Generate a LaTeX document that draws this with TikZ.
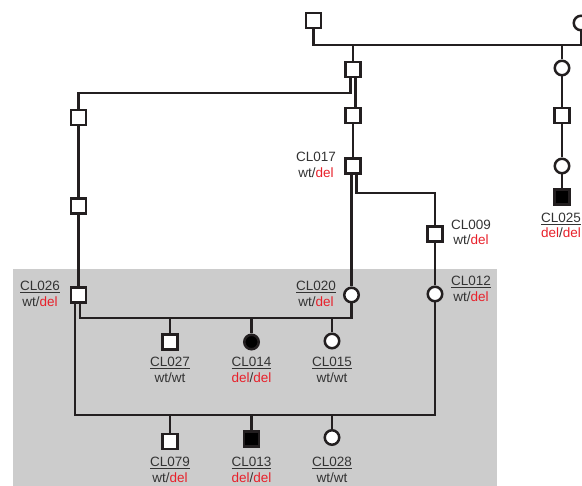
\documentclass[tikz,border=0pt]{standalone}
\usepackage{fontspec}
\setmainfont{Liberation Sans}
\usetikzlibrary{calc}
\definecolor{txt}{HTML}{333333}
\definecolor{delred}{HTML}{E8202A}
\definecolor{ln}{HTML}{231F20}
\definecolor{bg}{HTML}{CCCCCC}
\newcommand{\dl}{\textcolor{delred}{del}}
\begin{document}
\begin{tikzpicture}[x=1pt,y=-1pt,
  conn/.style={draw=ln, line width=2.5pt},
  male/.style={draw=ln, line width=2.5pt, fill=white, rectangle, minimum size=14.8pt, inner sep=0pt},
  female/.style={draw=ln, line width=2.5pt, fill=white, circle, minimum size=14.5pt, inner sep=0pt},
  aff/.style={fill=black},
  lbl/.style={anchor=base, inner sep=0pt, text=txt, font=\fontsize{13.5}{16}\selectfont}]
\useasboundingbox (0,0) rectangle (582,486);
\fill[bg] (13,269) rectangle (497,486);

% individuals
\node[male] (t1) at (313.5,20.5) {};
\node[female] (t2) at (581,23) {};
\node[male] (a1) at (353,69.5) {};
\node[male] (a2) at (353,115.5) {};
\node[male] (c17) at (353,166) {};
\node[female] (b1) at (562,68) {};
\node[male] (b2) at (562,115.5) {};
\node[female] (b3) at (562,166) {};
\node[male,aff] (b4) at (562,197) {};
\node[male] (L1) at (78.5,117.5) {};
\node[male] (L2) at (78.5,206) {};
\node[male] (c26) at (78.5,295) {};
\node[female] (c20) at (351.5,295) {};
\node[male] (c09) at (435,234) {};
\node[female] (c12) at (435,294) {};
\node[male] (c27) at (170,342) {};
\node[female,aff] (c14) at (251.5,342) {};
\node[female] (c15) at (332,341) {};
\node[male] (c79) at (170,441.5) {};
\node[male,aff] (c13) at (251.5,439) {};
\node[female] (c28) at (332,437.5) {};

% helper coordinates
\coordinate (mA) at (313.5,45);
\coordinate (mB) at (581,45);
\coordinate (kL) at (78.5,93);
\coordinate (k2) at (435,193);
\coordinate (s1) at (351.5,318);
\coordinate (s2) at (435,415);

% connectors
\draw[conn] (t1) -- (mA) -- (mB) -- (t2);
\draw[conn] (a1 |- mA) -- (a1);
\draw[conn] (b1 |- mA) -- (b1);
\draw[conn] (b1) -- (b2);
\draw[conn] (b2) -- (b3);
\draw[conn] (b3) -- (b4);
\draw[conn] ($(a1.south)+(2.7,0)$) -- ($(a2.north)+(2.7,0)$);
\draw[conn] ($(a1.south)+(-2.7,0)$) |- (kL) -- (L1);
\draw[conn] (L1) -- (L2);
\draw[conn] (L2) -- (c26);
\draw[conn] (a2) -- (c17);
\draw[conn] (c20 |- c17.south) -- (c20);
\draw[conn] ($(c17.south)+(3.5,0)$) |- (k2) -- (c09);
\draw[conn] (c09) -- (c12);
\draw[conn] ($(c26.south)+(1.5,0)$) |- (s1) -- (c20);
\draw[conn] (c27 |- s1) -- (c27);
\draw[conn] (c14 |- s1) -- (c14);
\draw[conn] (c15 |- s1) -- (c15);
\draw[conn] ($(c26.south)+(-3.5,0)$) |- (s2) -- (c12);
\draw[conn] (c79 |- s2) -- (c79);
\draw[conn] (c13 |- s2) -- (c13);
\draw[conn] (c28 |- s2) -- (c28);

% labels
\node[lbl] (l17a) at (316,162) {CL017};
\node[lbl] (l17b) at (316,178) {wt/\dl};
\node[lbl] (l09a) at (471,230) {CL009};
\node[lbl] (l09b) at (471,245) {wt/\dl};
\node[lbl] (l25a) at (561,223) {\underline{CL025}};
\node[lbl] (l25b) at (561,238) {\dl/\dl};
\node[lbl] (l26a) at (40,291) {\underline{CL026}};
\node[lbl] (l26b) at (40,307) {wt/\dl};
\node[lbl] (l20a) at (316,291) {\underline{CL020}};
\node[lbl] (l20b) at (316,307) {wt/\dl};
\node[lbl] (l12a) at (471,286) {\underline{CL012}};
\node[lbl] (l12b) at (471,302) {wt/\dl};
\node[lbl] (l27a) at (170,367) {\underline{CL027}};
\node[lbl] (l27b) at (170,383) {wt/wt};
\node[lbl] (l14a) at (251.5,367) {\underline{CL014}};
\node[lbl] (l14b) at (251.5,383) {\dl/\dl};
\node[lbl] (l15a) at (332,367) {\underline{CL015}};
\node[lbl] (l15b) at (332,383) {wt/wt};
\node[lbl] (l79a) at (170,467) {\underline{CL079}};
\node[lbl] (l79b) at (170,483) {wt/\dl};
\node[lbl] (l13a) at (251.5,467) {\underline{CL013}};
\node[lbl] (l13b) at (251.5,483) {\dl/\dl};
\node[lbl] (l28a) at (332,467) {\underline{CL028}};
\node[lbl] (l28b) at (332,483) {wt/wt};
\end{tikzpicture}
\end{document}
